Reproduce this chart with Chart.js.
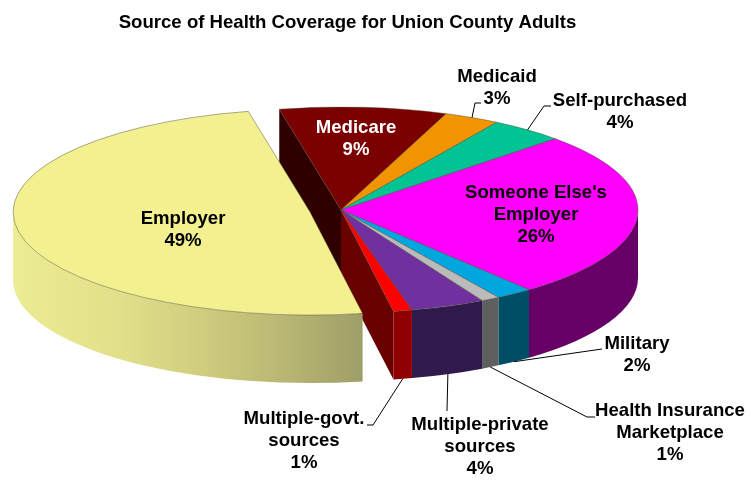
<!DOCTYPE html>
<html>
<head>
<meta charset="utf-8">
<style>html,body{margin:0;padding:0;background:#fff}canvas{display:block}</style>
<script src="https://cdn.jsdelivr.net/npm/chart.js@4"></script>
</head>
<body>
<canvas id="c" width="751" height="487"></canvas>
<script>
const titleText = "Source of Health Coverage for Union County Adults";
const categories = ["Medicare","Medicaid","Self-purchased","Someone Else's Employer","Military","Health Insurance Marketplace","Multiple-private sources","Multiple-govt. sources","Employer"];
const shares = [9,3,4,26,2,1,4,1,49];
const topColors = ["#7B0000","#F29400","#00C493","#FF00FF","#00A6E0","#BBBBBB","#7030A0","#FF0000","#F3F18F"];
const wallColors = ["#5A0000","#B06C00","#008F6B","#660066","#004D66","#5F5F5F","#301A4D","#8F0000","#C8C67C"];
const employerWallStops = [[0,"#ECEC94"],[0.3,"#E2E08A"],[0.55,"#CFCC7E"],[0.8,"#B6B472"],[1,"#9E9E68"]];
const cutFaceColors = {first:"#2F0000", last:"#680000"};

// layout
const pie = {x:341, y:210, rx:297, ry:103, depth:68, explode:31.5};
const k = pie.ry/pie.rx;
const FONT = 'bold 18.6px "Liberation Sans", Arial, sans-serif';
const textLayout = [
  {i:0, x:356, y:128, lines:["Medicare","9%"], color:"#fff"},
  {i:1, x:497, y:77,  lines:["Medicaid","3%"], leader:[[475,103],[481,103]]},
  {i:2, x:620, y:101, lines:["Self-purchased","4%"], leader:[[544,106],[551,106]]},
  {i:3, x:536, y:193, lines:["Someone Else's","Employer","26%"]},
  {i:4, x:637, y:344, lines:["Military","2%"], leader:[[602,349]]},
  {i:5, x:670, y:411, lines:["Health Insurance","Marketplace","1%"], leader:[[587,417],[595,417]]},
  {i:6, x:480, y:425, lines:["Multiple-private","sources","4%"], leader:[[447,411]]},
  {i:7, x:304, y:419, lines:["Multiple-govt.","sources","1%"], leader:[[373,425],[367,425]]},
  {i:8, x:183, y:219, lines:["Employer","49%"]}
];
const lineHeight = 22;

const TAU = Math.PI*2;
function placed(el){ return {x:el.x, y:pie.y+(el.y-pie.y)*k, r:el.outerRadius, ry:el.outerRadius*k, a:el.startAngle, b:el.endAngle}; }
function visibleSpans(a,b){
  const out=[];
  for(let n=-2;n<=2;n++){
    const lo=Math.max(a,n*TAU), hi=Math.min(b,n*TAU+Math.PI);
    if(hi>lo) out.push([lo,hi]);
  }
  return out;
}
function wall(ctx,p,a,b,fill){
  ctx.beginPath();
  ctx.ellipse(p.x,p.y,p.r,p.ry,0,a,b,false);
  ctx.ellipse(p.x,p.y+pie.depth,p.r,p.ry,0,b,a,true);
  ctx.closePath();
  ctx.fillStyle=fill; ctx.fill();
}
function cutFace(ctx,p,ang,fill){
  const ex=p.x+p.r*Math.cos(ang), ey=p.y+p.ry*Math.sin(ang);
  ctx.beginPath();
  ctx.moveTo(p.x,p.y); ctx.lineTo(ex,ey); ctx.lineTo(ex,ey+pie.depth); ctx.lineTo(p.x,p.y+pie.depth);
  ctx.closePath(); ctx.fillStyle=fill; ctx.fill();
}

const pie3d = {
  id:"pie3d",
  afterDatasetsUpdate(chart){
    const arcs=chart.getDatasetMeta(0).data, last=arcs.length-1;
    arcs.forEach((el,i)=>{
      el.x=pie.x; el.y=pie.y;
      if(i===last){
        const mid=(el.startAngle+el.endAngle)/2;
        el.x+=Math.cos(mid)*pie.explode; el.y+=Math.sin(mid)*pie.explode;
      }
    });
  },
  beforeDatasetsDraw(chart){
    const ctx=chart.ctx, arcs=chart.getDatasetMeta(0).data, last=arcs.length-1;
    ctx.save();
    const p0=placed(arcs[0]), pL=placed(arcs[last-1]);
    cutFace(ctx,p0,p0.a,cutFaceColors.first);
    cutFace(ctx,pL,pL.b,cutFaceColors.last);
    arcs.forEach((el,i)=>{
      const p=placed(el);
      let fill=wallColors[i];
      if(i===last){
        const g=ctx.createLinearGradient(p.x-p.r,0,p.x+p.r*Math.cos(visibleSpans(p.a,p.b)[0][0]),0);
        employerWallStops.forEach(s=>g.addColorStop(s[0],s[1]));
        fill=g;
      }
      visibleSpans(p.a,p.b).forEach(s=>wall(ctx,p,s[0],s[1],fill));
    });
    ctx.restore();
    ctx.save();
    ctx.translate(pie.x,pie.y); ctx.scale(1,k); ctx.translate(-pie.x,-pie.y);
  },
  afterDatasetsDraw(chart){
    const ctx=chart.ctx, arcs=chart.getDatasetMeta(0).data;
    ctx.restore();
    ctx.save();
    textLayout.forEach(t=>{
      if(t.leader){
        const p=placed(arcs[t.i]), m=(p.a+p.b)/2, s=Math.sin(m);
        const sx=p.x+p.r*Math.cos(m), sy=p.y+p.ry*s+(s>0?pie.depth:0);
        ctx.beginPath(); ctx.moveTo(sx,sy);
        t.leader.forEach(q=>ctx.lineTo(q[0],q[1]));
        ctx.strokeStyle="#000"; ctx.lineWidth=1; ctx.stroke();
      }
      ctx.font=FONT; ctx.textAlign="center"; ctx.textBaseline="middle";
      ctx.fillStyle=t.color||"#000";
      t.lines.forEach((l,n)=>ctx.fillText(l,t.x,t.y+n*lineHeight));
    });
    ctx.restore();
  }
};

new Chart(document.getElementById("c"),{
  type:"pie",
  data:{labels:categories,datasets:[{
    data:shares,
    backgroundColor:topColors,
    borderColor:"rgba(70,70,50,0.75)",
    borderWidth:0.9,
    clip:false
  }]},
  options:{
    responsive:false,
    animation:false,
    events:[],
    rotation:-12,
    radius:pie.rx,
    layout:{padding:{left:0,right:56,top:0,bottom:0}},
    plugins:{
      legend:{display:false},
      tooltip:{enabled:false},
      title:{display:true,text:titleText,color:"#000",font:{family:'"Liberation Sans", Arial, sans-serif',size:18.6,weight:"bold"},padding:{top:12,bottom:8}}
    }
  },
  plugins:[pie3d]
});
</script>
</body>
</html>
